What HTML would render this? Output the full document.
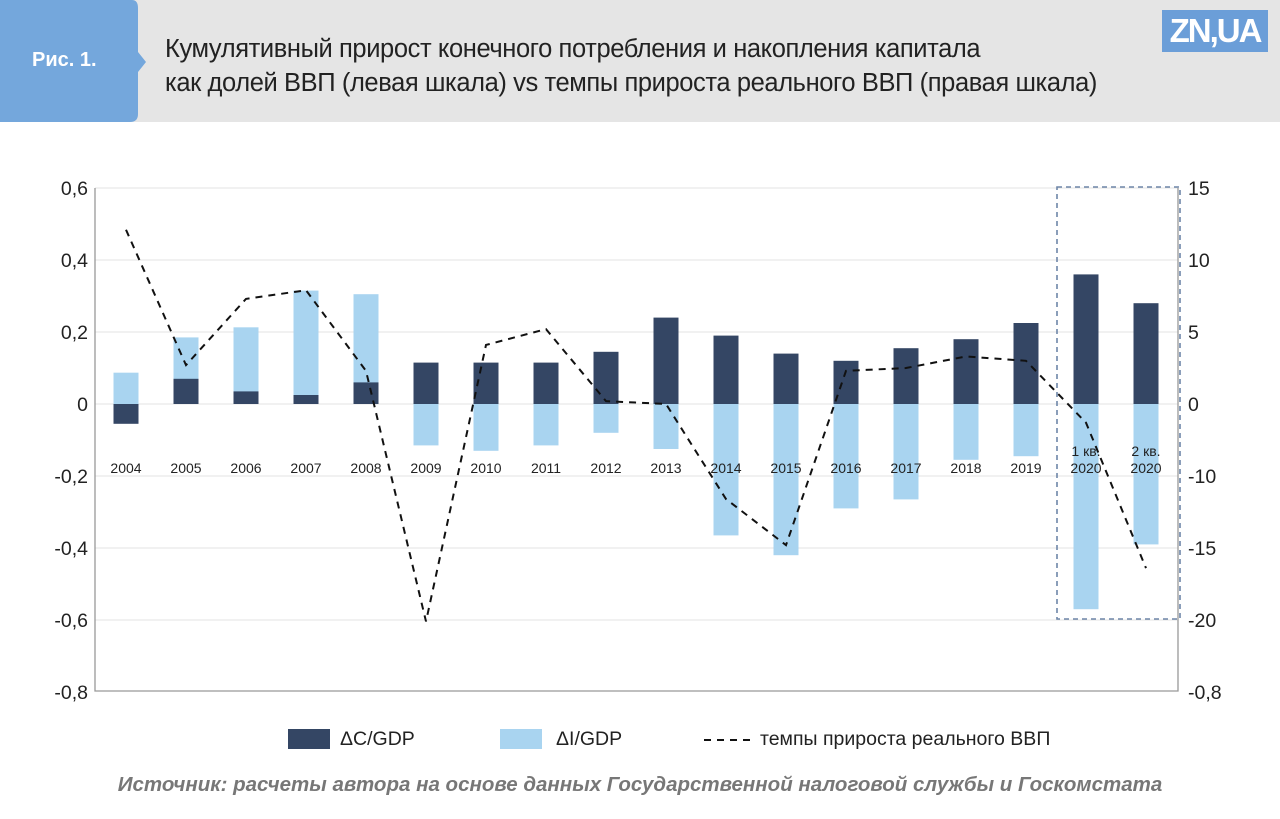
<!DOCTYPE html>
<html><head><meta charset="utf-8"><style>
body{margin:0;width:1280px;height:819px;background:#fff;font-family:"Liberation Sans","DejaVu Sans",sans-serif;overflow:hidden;position:relative}
</style></head><body>
<div style="position:absolute;left:0;top:0;width:1280px;height:122px;background:#e5e5e5"></div>
<svg style="position:absolute;left:0;top:0" width="150" height="122"><path d="M0 0H132Q138 0 138 8V52L146 62L138 72V114Q138 122 130 122H0Z" fill="#74a7dc"/></svg>
<div style="position:absolute;left:32px;top:49px;color:#fff;font-weight:bold;font-size:20px">Рис. 1.</div>
<div style="position:absolute;left:165px;top:32px;color:#222;font-size:25.5px;line-height:34px;letter-spacing:-0.4px;white-space:nowrap">Кумулятивный прирост конечного потребления и накопления капитала<br>как долей ВВП (левая шкала) vs темпы прироста реального ВВП (правая шкала)</div>
<div style="position:absolute;left:1162px;top:10px;width:106px;height:42px;background:#6b9ed8;color:#fff;font-weight:bold;font-size:33px;line-height:42px;text-align:center;letter-spacing:-2px">ZN,UA</div>
<svg id="chart" style="position:absolute;left:0;top:0" width="1280" height="819"></svg>
<div style="position:absolute;left:0;top:726px;width:1280px;height:30px;font-size:19.5px;color:#222">
<div style="position:absolute;left:288px;top:3px;width:42px;height:20px;background:#344664"></div>
<div style="position:absolute;left:340px;top:2px">ΔC/GDP</div>
<div style="position:absolute;left:500px;top:3px;width:42px;height:20px;background:#a9d4f0"></div>
<div style="position:absolute;left:556px;top:2px">ΔI/GDP</div>
<svg style="position:absolute;left:704px;top:8px" width="46" height="10"><line x1="0" y1="6" x2="46" y2="6" stroke="#111" stroke-width="2" stroke-dasharray="7,6"/></svg>
<div style="position:absolute;left:760px;top:2px">темпы прироста реального ВВП</div>
</div>
<div style="position:absolute;left:0;width:1280px;top:773px;text-align:center;font-size:20.5px;font-style:italic;font-weight:bold;color:#777;white-space:nowrap">Источник: расчеты автора на основе данных Государственной налоговой службы и Госкомстата</div>
<script>
const categories=["2004","2005","2006","2007","2008","2009","2010","2011","2012","2013","2014","2015","2016","2017","2018","2019","1 кв.|2020","2 кв.|2020"];
const cValues=[-0.055,0.07,0.035,0.025,0.06,0.115,0.115,0.115,0.145,0.24,0.19,0.14,0.12,0.155,0.18,0.225,0.36,0.28];
const iValues=[0.087,0.185,0.213,0.315,0.305,-0.115,-0.13,-0.115,-0.08,-0.125,-0.365,-0.42,-0.29,-0.265,-0.155,-0.145,-0.57,-0.39];
const gdpValues=[12.1,2.7,7.3,7.9,2.3,-15.1,4.1,5.2,0.2,0,-6.6,-9.8,2.3,2.5,3.3,3.0,-1.3,-11.4];
const leftTicks=[0.6,0.4,0.2,0,-0.2,-0.4,-0.6,-0.8];
const leftTickLabels=["0,6","0,4","0,2","0","-0,2","-0,4","-0,6","-0,8"];
const rightTickLabels=["15","10","5","0","-10","-15","-20","-0,8"];
const NS="http://www.w3.org/2000/svg",svg=document.getElementById('chart');
const X0=95,X1=1178,Y0=188,Y1=691;
const yL=v=>404-(v)*360;
const yR=v=>404-v*14.4;
const step=60,first=126;
const xC=i=>first+i*step;
function mk(t,a,p){const e=document.createElementNS(NS,t);for(const k in a)e.setAttribute(k,a[k]);(p||svg).appendChild(e);return e;}
leftTicks.forEach((t,i)=>{
 const y=yL(t);
 if(i<leftTicks.length-1){const g=mk('line',{x1:X0,x2:X1,y1:y,y2:y,stroke:'#e3e3e3','stroke-width':1});
 
 }
 const l=mk('text',{x:88,y:y+7,'text-anchor':'end','font-size':19.5,fill:'#222'});l.textContent=leftTickLabels[i];
 
 
 const r=mk('text',{x:1188,y:y+7,'font-size':19.5,fill:'#222'});r.textContent=rightTickLabels[i];
 
 
});
const ax=mk('path',{d:`M${X0} ${Y0}V${Y1}H${X1}V${Y0}`,fill:'none',stroke:'#999','stroke-width':1.3});


const bw=25;
categories.forEach((c,i)=>{
 const x=xC(i)-bw/2;
 const iv=iValues[i],cv=cValues[i];
 const bi=mk('rect',{x:x,width:bw,y:Math.min(yL(iv),yL(0)),height:Math.abs(yL(iv)-yL(0)),fill:'#a9d4f0'});
 
 
 const bc=mk('rect',{x:x,width:bw,y:Math.min(yL(cv),yL(0)),height:Math.abs(yL(cv)-yL(0)),fill:'#344664'});
 
 
 const parts=c.split('|');
 parts.forEach((p,j)=>{
  const t=mk('text',{x:xC(i),y:(parts.length>1?456+j*17:473),'text-anchor':'middle','font-size':14,fill:'#222'});t.textContent=p;
  
  
 });
});
const pts=gdpValues.map((v,i)=>xC(i)+','+yR(v)).join(' ');
const ln=mk('polyline',{points:pts,fill:'none',stroke:'#111','stroke-width':2,'stroke-dasharray':'7,6'});


const hb=mk('rect',{x:1057,y:187,width:123,height:432,fill:'none',stroke:'#6e86a8','stroke-width':1.6,'stroke-dasharray':'5,4'});


</script>
</body></html>
